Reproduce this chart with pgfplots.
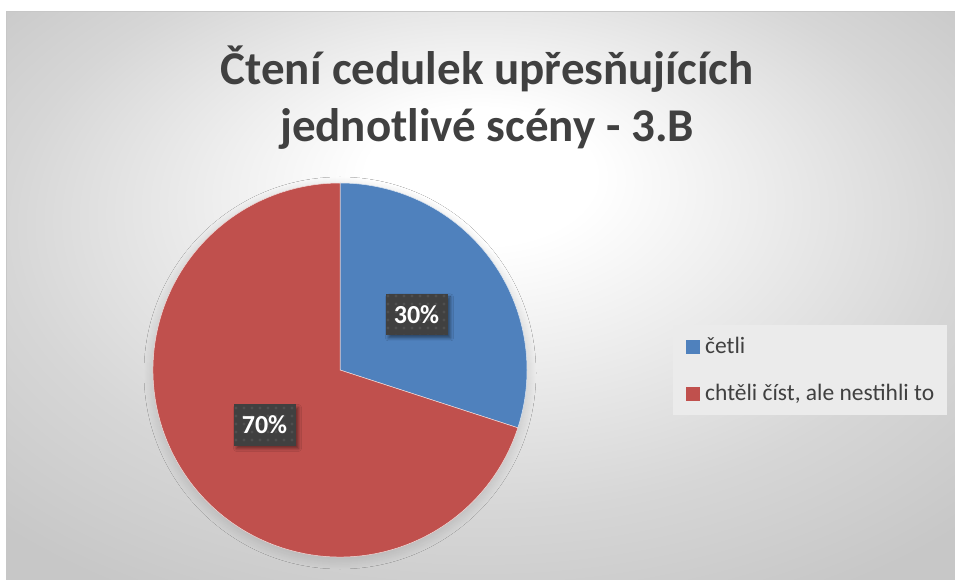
\documentclass[border=0pt]{standalone}
\usepackage{fontspec}
\setmainfont{Carlito}
\usepackage{pgfplots}
\pgfplotsset{compat=1.18}
\usepackage{pgfplotstable}
\usetikzlibrary{shadows.blur,patterns}

\definecolor{pieblue}{HTML}{4F81BD}
\definecolor{piered}{HTML}{C0504D}
\definecolor{textgray}{HTML}{404040}
\definecolor{boxgray}{HTML}{404040}

% background: light in the upper middle, grey towards the edges
\pgfdeclareradialshading{bgshade}{\pgfpoint{0bp}{12bp}}{%
  color(0bp)=(white); color(6bp)=(white); color(25bp)=(black!16);
  color(35bp)=(black!22); color(50bp)=(black!22)}

% faint dot texture of the data label boxes
\pgfdeclarepatternformonly{labeldots}{\pgfpoint{-1bp}{-1bp}}{\pgfpoint{8bp}{8bp}}{\pgfpoint{8bp}{8bp}}{%
  \pgfpathcircle{\pgfpoint{4bp}{4bp}}{1.6bp}\pgfusepath{fill}}

\pgfplotstableread[col sep=semicolon]{
label;value
četli;30
chtěli číst, ale nestihli to;70
}\piedata

\pgfplotstablegetelem{0}{value}\of\piedata \edef\vA{\pgfplotsretval}%
\pgfplotstablegetelem{1}{value}\of\piedata \edef\vB{\pgfplotsretval}%
\pgfplotstablegetelem{0}{label}\of\piedata \let\lA\pgfplotsretval%
\pgfplotstablegetelem{1}{label}\of\piedata \let\lB\pgfplotsretval%
\pgfmathsetmacro\angA{90-3.6*\vA}%
\pgfmathsetmacro\angB{\angA-3.6*\vB}%

\tikzset{datalabel/.style={fill=boxgray, text=white,
    font=\fontsize{26bp}{30bp}\selectfont\bfseries,
    minimum width=62bp, minimum height=41bp, inner sep=0pt,
    postaction={pattern=labeldots, pattern color=white!8!boxgray},
    blur shadow={shadow xshift=3bp, shadow yshift=-3bp,
      shadow blur radius=3bp, shadow opacity=45}}}

\begin{document}
\begin{tikzpicture}
\path[use as bounding box] (0,0) rectangle (955bp,580bp);
\begin{axis}[
    width=955bp, height=580bp, scale only axis,
    xmin=0, xmax=955, ymin=0, ymax=580,
    hide axis, clip=false,
    legend image code/.code={\fill[#1, draw=none] (0bp,-7bp) rectangle (14bp,7bp);},
    legend cell align=left,
    legend style={at={(axis cs:673,255)}, anchor=north west,
                  draw=none, fill=black!8,
                  inner xsep=13bp, inner ysep=11bp,
                  row sep=25.85bp, /tikz/column sep=5bp,
                  font=\fontsize{23.5bp}{28bp}\selectfont, text=textgray,
                  nodes={inner sep=0pt, text height=17.6bp, text depth=3.5bp}},
]
\shade[shading=bgshade] (axis cs:6,0) rectangle (axis cs:955,568);
\draw[black!22, line width=1bp] (axis cs:6,0) -- (axis cs:6,568.5) -- (axis cs:955,568.5);

\node[anchor=base, text=textgray, font=\fontsize{47bp}{57bp}\selectfont\bfseries]
  at (axis cs:487,495) {Čtení cedulek upřesňujících};
\node[anchor=base, text=textgray, font=\fontsize{47bp}{57bp}\selectfont\bfseries]
  at (axis cs:487,438) {jednotlivé scény - 3.B};

% pie, angles from the table values (clockwise from the top)
\path[blur shadow={shadow xshift=0bp, shadow yshift=-3bp, shadow blur steps=25,
      shadow blur radius=12bp, shadow opacity=20}]
  (axis cs:340,210) circle[radius=184bp];
\filldraw[fill=pieblue, draw=white!80!pieblue, line width=0.5bp]
  (axis cs:340,210) -- ++(90:187bp) arc[start angle=90, end angle=\angA, radius=187bp] -- cycle;
\filldraw[fill=piered, draw=white!80!piered, line width=0.5bp]
  (axis cs:340,210) -- ++(\angA:187bp) arc[start angle=\angA, end angle=\angB, radius=187bp] -- cycle;

\node[datalabel] at (axis cs:416.5,265.5) {\vA\%};
\node[datalabel] at (axis cs:264.5,155) {\vB\%};

\addlegendimage{fill=pieblue, draw=none}
\addlegendentry{\lA}
\addlegendimage{fill=piered, draw=none}
\addlegendentry{\lB}
\end{axis}
\end{tikzpicture}
\end{document}
